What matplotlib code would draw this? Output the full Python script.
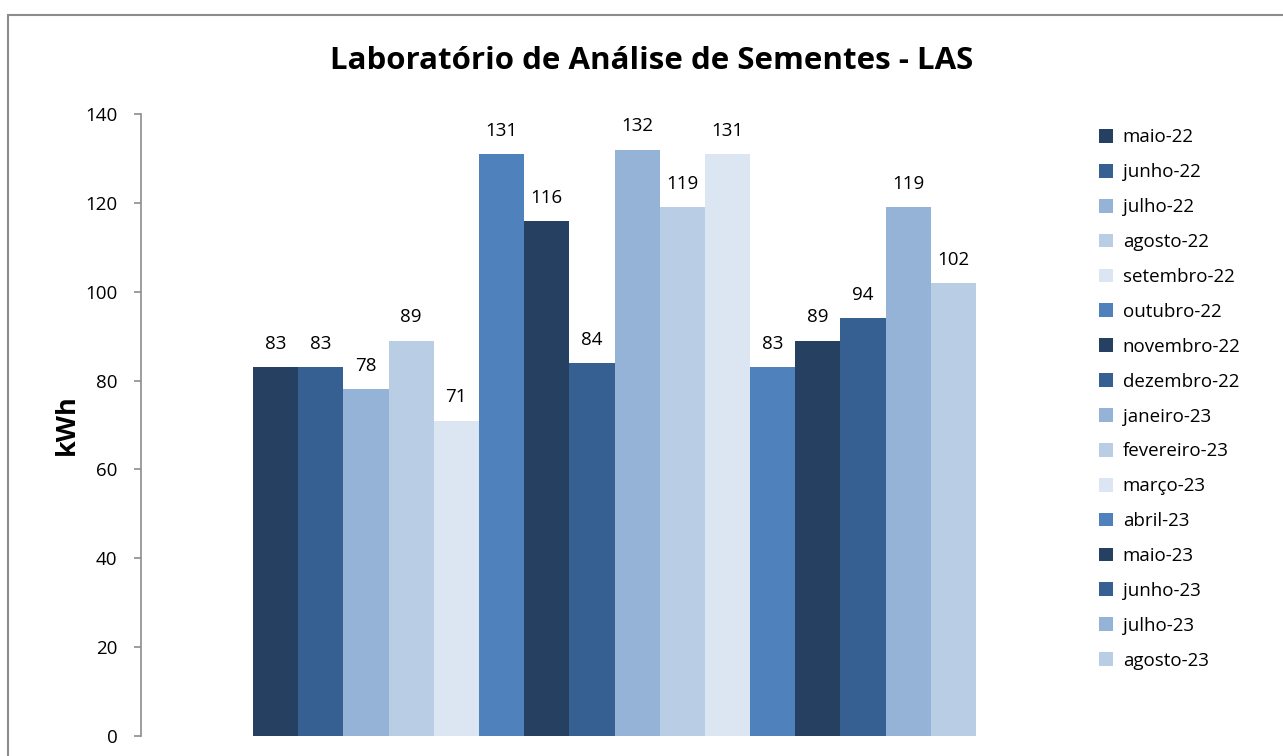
import matplotlib.pyplot as plt
from matplotlib.patches import Rectangle

# data
months = ["maio-22", "junho-22", "julho-22", "agosto-22", "setembro-22",
          "outubro-22", "novembro-22", "dezembro-22", "janeiro-23",
          "fevereiro-23", "março-23", "abril-23", "maio-23", "junho-23",
          "julho-23", "agosto-23"]
kwh = [83, 83, 78, 89, 71, 131, 116, 84, 132, 119, 131, 83, 89, 94, 119, 102]
palette = ["#254061", "#366092", "#95B3D7", "#B9CDE5", "#DCE6F2", "#4F81BD"]
yticks = [0, 20, 40, 60, 80, 100, 120, 140]

plt.rcParams["font.family"] = ["Open Sans", "DejaVu Sans"]

W, H = 1283, 756
fig = plt.figure(figsize=(W / 100, H / 100), dpi=100)

# plot area in pixels
left, right, top, bottom = 141, 1088, 114, 736
ax = fig.add_axes([left / W, 1 - bottom / H, (right - left) / W, (bottom - top) / H])

handles = []
for i, (m, v) in enumerate(zip(months, kwh)):
    b = ax.bar(i, v, width=1.0, color=palette[i % len(palette)], label=m)
    handles.append(b)
    ax.text(i, v + 5.2, str(v), ha="center", va="center", fontsize=13.5, color="#000000")

bar_px = (976 - 253) / 16
ax.set_xlim(-0.5 - (253 - left) / bar_px, 15.5 + (right - 976) / bar_px)
ax.set_ylim(0, 140)
ax.set_yticks(yticks)
ax.set_xticks([])
ax.tick_params(axis="y", direction="out", length=5, width=1.2, color="#8c8c8c",
               labelsize=13.5, pad=12)
for s in ["top", "right", "bottom"]:
    ax.spines[s].set_visible(False)
ax.spines["left"].set_color("#8c8c8c")
ax.spines["left"].set_linewidth(1.2)

ax.set_ylabel("kWh", fontsize=19.5, fontweight="bold", labelpad=4)

fig.text(652 / W, 1 - 61 / H, "Laboratório de Análise de Sementes - LAS",
         ha="center", va="center", fontsize=22.5, fontweight="bold")

fig.legend(handles=handles, loc="upper left", bbox_to_anchor=(1091 / W, 1 - 121 / H),
           frameon=False, fontsize=13.5, handlelength=0.75, handleheight=0.75,
           handletextpad=0.55, labelspacing=0.9, borderaxespad=0)

# outer chart border
fig.patches.append(Rectangle((8 / W, -0.1), 1.2, 1.1 - 15 / H, transform=fig.transFigure,
                             fill=False, edgecolor="#8c8c8c", linewidth=1.5))

fig.savefig("out.png", dpi=100)
